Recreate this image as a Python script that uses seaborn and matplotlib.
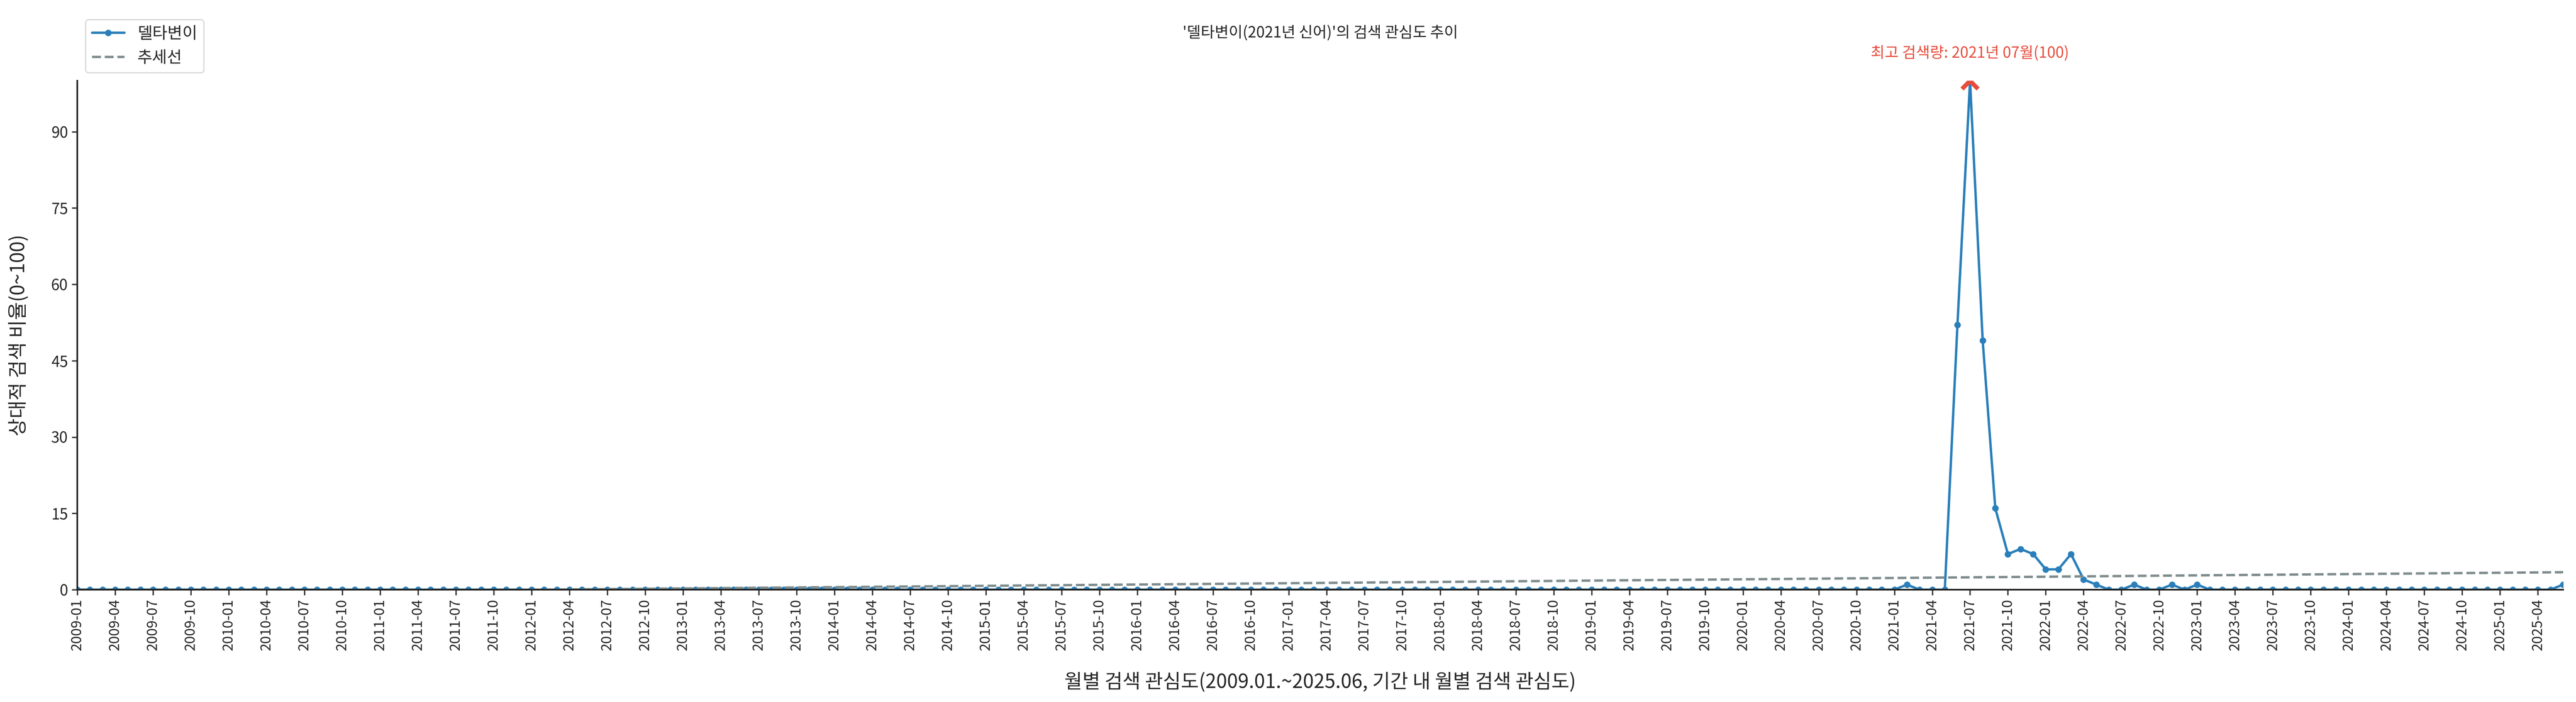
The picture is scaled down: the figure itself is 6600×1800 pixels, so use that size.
import numpy as np
import pandas as pd
import matplotlib
matplotlib.use("Agg")
import matplotlib.pyplot as plt
import seaborn as sns

# monthly data 2009-01 .. 2025-06
months = pd.date_range("2009-01-01", "2025-06-01", freq="MS")
labels = [d.strftime("%Y-%m") for d in months]
values = np.zeros(len(months))
nonzero = {
    "2021-02": 1, "2021-06": 52, "2021-07": 100, "2021-08": 49, "2021-09": 16,
    "2021-10": 7, "2021-11": 8, "2021-12": 7, "2022-01": 4, "2022-02": 4,
    "2022-03": 7, "2022-04": 2, "2022-05": 1, "2022-08": 1, "2022-11": 1,
    "2023-01": 1, "2025-06": 1,
}
for k, v in nonzero.items():
    values[labels.index(k)] = v

df = pd.DataFrame({"x": np.arange(len(months)), "value": values})
coef = np.polyfit(df["x"], df["value"], 1)
df["trend"] = np.polyval(coef, df["x"])

sns.set_theme(style="white")
plt.rcParams["font.family"] = ["Noto Sans CJK KR", "DejaVu Sans"]

fig, ax = plt.subplots(figsize=(33, 9), dpi=200)
sns.lineplot(data=df, x="x", y="value", marker="o", markersize=6, color="#2a7fba",
             linewidth=2.2, markeredgewidth=0, label="델타변이", ax=ax)
sns.lineplot(data=df, x="x", y="trend", color="#7f8c8d", linestyle="--",
             linewidth=2.2, label="추세선", ax=ax)

imax = int(df["value"].idxmax())
ax.scatter(imax, df["value"][imax], marker="x", s=220, color="#e74c3c", linewidths=4, zorder=5)
ax.annotate(f"최고 검색량: {months[imax].year}년 {months[imax].month:02d}월({int(df['value'][imax])})",
            (imax, df["value"][imax]), xytext=(0, 18), textcoords="offset points",
            ha="center", va="bottom", color="#e74c3c", fontsize=14)

ticks = df["x"][::3]
ax.set_xticks(ticks)
ax.set_xticklabels([labels[i] for i in ticks], rotation=90, fontsize=13)
ax.set_yticks(range(0, 91, 15))
ax.tick_params(axis="y", labelsize=14)
ax.tick_params(axis="both", which="major", length=5, color="#333333", left=True, bottom=True)
ax.set_xlim(0, len(months) - 1)
ax.set_ylim(0, 100)
sns.despine(ax=ax)
for s in ["left", "bottom"]:
    ax.spines[s].set_color("#222222")
    ax.spines[s].set_linewidth(1.5)

ax.set_title("'델타변이(2021년 신어)'의 검색 관심도 추이", fontsize=14, pad=40)
ax.set_xlabel("월별 검색 관심도(2009.01.~2025.06, 기간 내 월별 검색 관심도)", fontsize=18, labelpad=20)
ax.set_ylabel("상대적 검색 비율(0~100)", fontsize=18, labelpad=20)
ax.legend(loc="lower left", bbox_to_anchor=(0.0, 1.0), fontsize=15, frameon=True)

fig.subplots_adjust(left=0.03, right=0.995, top=0.885, bottom=0.16)
fig.savefig("out.png", dpi=200)
